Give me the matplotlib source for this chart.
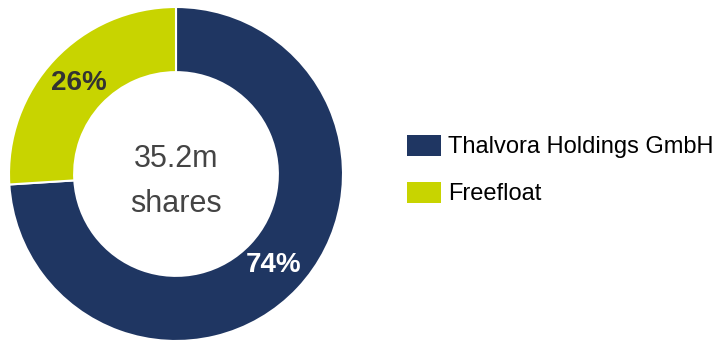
import matplotlib.pyplot as plt
from matplotlib.patches import Patch

plt.rcParams['font.family'] = ['Liberation Sans Narrow', 'Liberation Sans', 'DejaVu Sans']

holders = ['Thalvora Holdings GmbH', 'Freefloat']
shares_pct = [74, 26]
colors = ['#1F3662', '#C8D400']
label_colors = ['white', '#333333']

fig = plt.figure(figsize=(7.17, 3.43), dpi=100)
# donut axes: centre ~ (176, 174) px, outer radius ~ 167 px
ax = fig.add_axes([9 / 717, 2 / 343, 334 / 717, 334 / 343])

wedges, texts, autotexts = ax.pie(
    shares_pct, colors=colors, startangle=90, counterclock=False,
    radius=1.0, pctdistance=0.8,
    autopct=lambda p: f'{p:.0f}%',
    wedgeprops=dict(width=0.39, edgecolor='white', linewidth=1.5),
)
for t, c in zip(autotexts, label_colors):
    t.set_color(c)
    t.set_fontsize(20)
    t.set_fontweight('bold')

ax.text(0, 0.09, '35.2m', ha='center', va='center', fontsize=22, color='#444444')
ax.text(0, -0.18, 'shares', ha='center', va='center', fontsize=22, color='#444444')
ax.set_xlim(-1, 1)
ax.set_ylim(-1, 1)
ax.set_aspect('equal')
ax.axis('off')

handles = [Patch(facecolor=c, edgecolor='none') for c in colors]
fig.legend(handles, holders, loc='center left', bbox_to_anchor=(407 / 717, 1 - 170 / 343),
           frameon=False, fontsize=17, handlelength=1.45, handleheight=1.0,
           handletextpad=0.3, labelspacing=1.0, borderaxespad=0, borderpad=0)

plt.savefig('out.png', dpi=100)
